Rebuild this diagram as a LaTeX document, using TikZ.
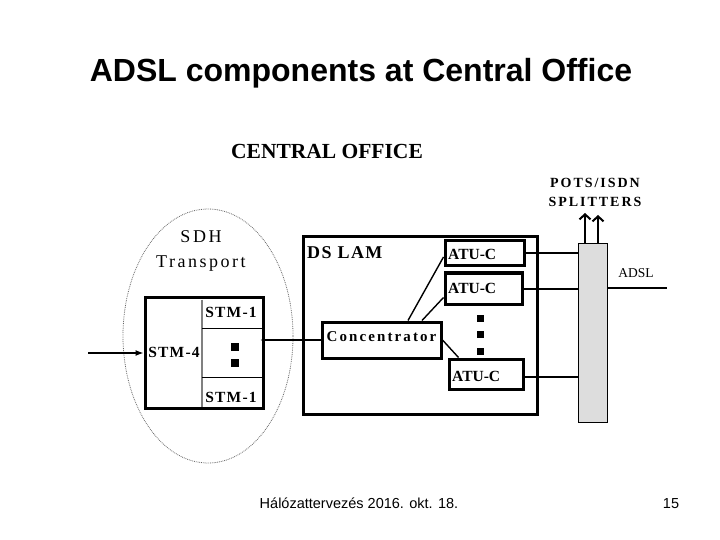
\documentclass[tikz,border=0pt]{standalone}
\usepackage{fontspec}
\setmainfont{Liberation Serif}
\newfontfamily\arialf{Liberation Sans}
\newfontfamily\spacedser[LetterSpace=8]{Liberation Serif}
\newfontfamily\widesser[LetterSpace=14]{Liberation Serif}
\usetikzlibrary{arrows.meta}
\definecolor{splitgray}{RGB}{221,221,221}
\begin{document}
\begin{tikzpicture}[x=1bp,y=-1bp,
  thickbox/.style={draw, line width=3bp, inner sep=0pt},
  txt/.style={inner sep=0pt, anchor=base},
  dotsq/.style={fill=black, draw=none, minimum size=7bp, inner sep=0pt},
  conn/.style={line width=1.4bp}]
\useasboundingbox (0,0) rectangle (720,540);
% title
\node[txt, font=\arialf\bfseries\fontsize{32bp}{36bp}\selectfont] (title) at (361,82) {ADSL components at Central Office};
\node[txt, font=\bfseries\fontsize{21.5bp}{24bp}\selectfont] (co) at (327,159) {CENTRAL OFFICE};
% SDH ellipse
\draw[densely dotted, gray!80!black, line width=0.8bp] (208,336) ellipse [x radius=85bp, y radius=127bp];
\node[txt, font=\widesser\fontsize{18bp}{20bp}\selectfont] (sdh) at (201,243) {SDH};
\node[txt, font=\widesser\fontsize{18bp}{20bp}\selectfont] (transp) at (201,268) {Transport};
% STM box
\node[thickbox, minimum width=118bp, minimum height=110bp] (stm) at (204,353) {};
\draw[gray, line width=1.5bp] (202,299.5) -- (202,406.5);
\draw[line width=1bp] (202,328) -- (261.5,328);
\draw[line width=1bp] (202,377) -- (261.5,377);
\node[txt, font=\spacedser\bfseries\fontsize{15.5bp}{18bp}\selectfont] (stm1a) at (231,317) {STM-1};
\node[txt, font=\spacedser\bfseries\fontsize{15.5bp}{18bp}\selectfont] (stm1b) at (231,402) {STM-1};
\node[txt, font=\spacedser\bfseries\fontsize{15.5bp}{18bp}\selectfont] (stm4) at (174,357) {STM-4};
\node[dotsq, minimum size=8bp] (sd1) at (235,347) {};
\node[dotsq, minimum size=8bp] (sd2) at (235,363) {};
\coordinate (inp) at (88,353);
\draw[line width=1.2bp, -{Latex[length=8bp,width=6bp]}] (inp) -- (stm.west);
% DSLAM
\node[thickbox, minimum width=234bp, minimum height=177bp] (dslam) at (420,325.5) {};
\node[txt, anchor=base west, font=\spacedser\bfseries\fontsize{18bp}{20bp}\selectfont] (dslamlbl) at (307,259) {DS LAM};
\node[thickbox, minimum width=119bp, minimum height=36bp] (conc) at (381.5,340) {};
\node[txt, font=\widesser\bfseries\fontsize{15bp}{18bp}\selectfont] (conclbl) at (381.5,341) {Concentrator};
% ATU-C boxes
\node[thickbox, minimum width=79bp, minimum height=24bp] (atu1) at (484.5,253) {};
\node[thickbox, minimum width=77bp, minimum height=31bp] (atu2) at (483.5,288.5) {};
\node[thickbox, minimum width=74bp, minimum height=30bp] (atu3) at (486,374) {};
\node[txt, anchor=base west, font=\bfseries\fontsize{15.5bp}{18bp}\selectfont] (a1) at (448,260) {ATU-C};
\node[txt, anchor=base west, font=\bfseries\fontsize{15.5bp}{18bp}\selectfont] (a2) at (448,293) {ATU-C};
\node[txt, anchor=base west, font=\bfseries\fontsize{15.5bp}{18bp}\selectfont] (a3) at (452,381) {ATU-C};
\node[dotsq] (d1) at (480,318) {};
\node[dotsq] (d2) at (480,334) {};
\node[dotsq] (d3) at (480,351) {};
% concentrator links
\draw[conn, {Latex[length=4bp,width=4bp]}-] ([xshift=-4bp]stm.east |- conc.west) -- (conc.west);
\draw[conn] ([xshift=26.5bp]conc.north) -- ([yshift=-4bp]atu1.west);
\draw[conn] ([xshift=40.5bp]conc.north) -- ([yshift=-9bp]atu2.west);
\draw[conn] (conc.east) -- ([xshift=11bp]atu3.north west);
% splitter
\node[draw, fill=splitgray, line width=0.8bp, minimum width=29bp, minimum height=179bp, inner sep=0pt] (split) at (592.5,332.5) {};
\draw[line width=1.1bp] (atu1.east) -- (atu1.east -| split.west);
\draw[line width=2bp] (atu2.east) -- (atu2.east -| split.west);
\draw[line width=1.3bp] ([yshift=-3bp]atu3.east) -- ([yshift=-3bp]atu3.east -| split.west);
\coordinate (adslend) at (667,288);
\draw[line width=1.3bp] (split.east |- adslend) -- (adslend);
\node[txt, font=\fontsize{13.5bp}{16bp}\selectfont] (adsl) at (636,278) {ADSL};
% arrows up
\coordinate (up1) at (585,213);
\coordinate (up2) at (598,215);
\draw[line width=2bp, -{Straight Barb[length=5bp,width=11bp]}] (split.north -| up1) -- (up1);
\draw[line width=2bp, -{Straight Barb[length=5bp,width=11bp]}] (split.north -| up2) -- (up2);
\node[txt, font=\widesser\bfseries\fontsize{14bp}{16bp}\selectfont] (pots) at (595,188) {POTS/ISDN};
\node[txt, font=\widesser\bfseries\fontsize{14bp}{16bp}\selectfont] (splt) at (595,207) {SPLITTERS};
% footer
\node[txt, font=\arialf\fontsize{14.5bp}{17bp}\selectfont] (foot) at (359,508) {Hálózattervezés 2016. okt. 18.};
\node[txt, font=\arialf\fontsize{14.5bp}{17bp}\selectfont] (pg) at (671,508) {15};
\end{tikzpicture}
\end{document}
